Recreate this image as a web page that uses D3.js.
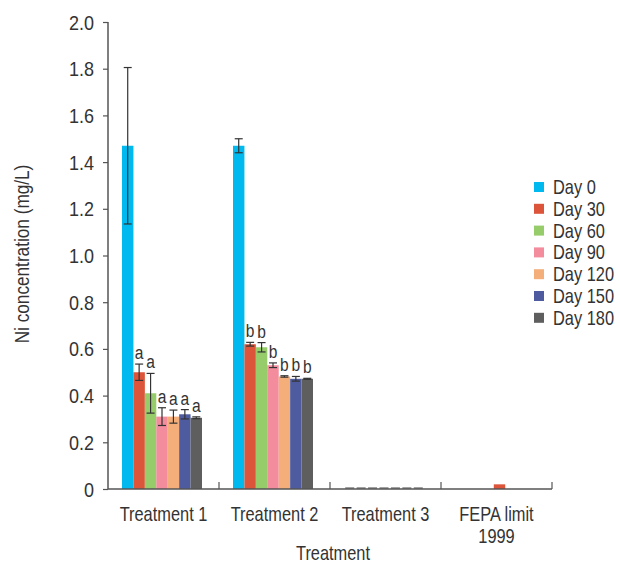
<!DOCTYPE html>
<html>
<head>
<meta charset="utf-8">
<script src="https://cdn.jsdelivr.net/npm/d3@7"></script>
<style>
  html, body { margin: 0; padding: 0; background: #fff; }
  svg { display: block; }
  text { font-family: "Liberation Sans", Arial, sans-serif; fill: #333; }
</style>
</head>
<body>
<svg id="chart" width="620" height="564"></svg>
<script>
// ---- data ----
const categories = ["Treatment 1", "Treatment 2", "Treatment 3", "FEPA limit 1999"];
const categoryLabelLines = [["Treatment 1"], ["Treatment 2"], ["Treatment 3"], ["FEPA limit", "1999"]];
const days = ["Day 0", "Day 30", "Day 60", "Day 90", "Day 120", "Day 150", "Day 180"];
const colors = ["#00b9ee", "#dc553a", "#97cc6b", "#f38c9d", "#f4ae7a", "#4e5b9e", "#5e5e5e"];

const t1Means  = [1.47, 0.50, 0.41, 0.31, 0.31, 0.32, 0.305];
const t1Errors = [0.335, 0.035, 0.085, 0.038, 0.028, 0.02, 0.004];
const t1Letters = ["", "a", "a", "a", "a", "a", "a"];

const t2Means  = [1.47, 0.62, 0.607, 0.53, 0.482, 0.472, 0.472];
const t2Errors = [0.03, 0.008, 0.02, 0.01, 0.003, 0.01, 0.002];
const t2Letters = ["", "b", "b", "b", "b", "b", "b"];

const t3Means  = [0, 0, 0, 0, 0, 0, 0];
const t3Errors = [0.004, 0.004, 0.004, 0.004, 0.004, 0.004, 0.004];
const t3Letters = ["", "", "", "", "", "", ""];

const fepaLimit = 0.02;

const yTicks = [0, 0.2, 0.4, 0.6, 0.8, 1.0, 1.2, 1.4, 1.6, 1.8, 2.0];
const yTickLabels = ["0", "0.2", "0.4", "0.6", "0.8", "1.0", "1.2", "1.4", "1.6", "1.8", "2.0"];

// ---- build rows ----
const groups = [
  { cat: categories[0], means: t1Means, errs: t1Errors, letters: t1Letters },
  { cat: categories[1], means: t2Means, errs: t2Errors, letters: t2Letters },
  { cat: categories[2], means: t3Means, errs: t3Errors, letters: t3Letters }
];
const rows = [];
groups.forEach(g => days.forEach((d, i) => rows.push({
  cat: g.cat, day: d, color: colors[i], v: g.means[i], e: g.errs[i], letter: g.letters[i]
})));

// ---- layout ----
const svg = d3.select("#chart");
const mLeft = 108, mRight = 552, mTop = 22, mBottom = 489;
const K = 0.82; // horizontal condensing to mimic the narrow typeface

const x0 = d3.scaleBand().domain(categories).range([mLeft, mRight]).paddingInner(0).paddingOuter(0);
const x1 = d3.scaleBand().domain(days).range([14, 94]).padding(0);
const y = d3.scaleLinear().domain([0, 2.0]).range([mBottom, mTop]);

// helper: condensed text placed at (x, y)
function ctext(parent, x, yy, str, opts = {}) {
  const k = opts.k || K;
  return parent.append("text")
    .attr("transform", `translate(${x},${yy})${opts.rotate ? ` rotate(${opts.rotate})` : ""} scale(${k},1)`)
    .attr("text-anchor", opts.anchor || "start")
    .attr("font-size", opts.size || 20)
    .text(str);
}

// bars
svg.append("g").selectAll("rect").data(rows.filter(r => r.v > 0)).join("rect")
  .attr("x", r => x0(r.cat) + x1(r.day))
  .attr("y", r => y(r.v))
  .attr("width", x1.bandwidth())
  .attr("height", r => y(0) - y(r.v))
  .attr("fill", r => r.color);

// FEPA limit bar (centered in its category)
svg.append("rect")
  .attr("x", x0(categories[3]) + x0.bandwidth() / 2 - x1.bandwidth() / 2 + 3)
  .attr("y", y(fepaLimit))
  .attr("width", x1.bandwidth())
  .attr("height", y(0) - y(fepaLimit))
  .attr("fill", colors[1]);

// error bars
const capW = 4;
const eb = svg.append("g").attr("stroke", "#333").attr("stroke-width", 1.2);
rows.filter(r => r.v > 0).forEach(r => {
  const cx = x0(r.cat) + x1(r.day) + x1.bandwidth() / 2;
  const y1 = y(r.v + r.e), y2 = y(Math.max(0, r.v - r.e));
  eb.append("line").attr("x1", cx).attr("x2", cx).attr("y1", y1).attr("y2", y2);
  eb.append("line").attr("x1", cx - capW).attr("x2", cx + capW).attr("y1", y1).attr("y2", y1);
  eb.append("line").attr("x1", cx - capW).attr("x2", cx + capW).attr("y1", y2).attr("y2", y2);
});
// zero-valued entries: only caps show
rows.filter(r => r.v === 0).forEach(r => {
  const cx = x0(r.cat) + x1(r.day) + x1.bandwidth() / 2;
  const y1 = y(r.v + r.e);
  svg.append("line").attr("x1", cx - capW - 0.5).attr("x2", cx + capW + 0.5)
    .attr("y1", y1).attr("y2", y1).attr("stroke", "#777").attr("stroke-width", 1.5);
});

// letters
const lettersG = svg.append("g");
rows.filter(r => r.letter).forEach(r => {
  ctext(lettersG, x0(r.cat) + x1(r.day) + x1.bandwidth() / 2, y(r.v + r.e) - 5, r.letter,
    { anchor: "middle", size: 19 });
});

// y axis
const yAxis = d3.axisLeft(y).tickValues(yTicks).tickSize(5).tickPadding(9)
  .tickFormat((d, i) => yTickLabels[i]);
const gy = svg.append("g").attr("transform", `translate(${mLeft},0)`).call(yAxis);
gy.select(".domain").attr("stroke", "#555").attr("stroke-width", 1.5).attr("d", `M0,${mTop}V${mBottom}`);
gy.selectAll(".tick line").attr("stroke", "#555").attr("stroke-width", 1.2);
gy.selectAll(".tick text").each(function () {
  const t = d3.select(this);
  const xx = +t.attr("x");
  t.attr("x", null).attr("dy", null)
    .attr("transform", `translate(${xx},7) scale(0.9,1)`)
    .attr("font-size", 20).attr("fill", "#333")
    .style("font-family", '"Liberation Sans", Arial, sans-serif');
});

// x axis
const gx = svg.append("g").attr("transform", `translate(0,${mBottom})`);
gx.append("line").attr("x1", mLeft).attr("x2", mRight).attr("y1", 0).attr("y2", 0)
  .attr("stroke", "#555").attr("stroke-width", 1.5);
const boundaries = categories.map(c => x0(c)).concat([mRight]);
gx.selectAll("line.tk").data(boundaries.slice(1)).join("line").attr("class", "tk")
  .attr("x1", d => d).attr("x2", d => d).attr("y1", 0).attr("y2", -7)
  .attr("stroke", "#555").attr("stroke-width", 1.2);

categories.forEach((c, i) => {
  categoryLabelLines[i].forEach((ln, j) => {
    ctext(gx, x0(c) + x0.bandwidth() / 2, 32 + j * 22, ln, { anchor: "middle" });
  });
});

// axis titles
ctext(svg, 333, 560, "Treatment", { anchor: "middle" });
ctext(svg, 29, 254, "Ni concentration (mg/L)", { anchor: "middle", rotate: -90, k: 0.86 });

// legend
const lg = svg.append("g").attr("transform", "translate(534,182)");
days.forEach((d, i) => {
  const row = lg.append("g").attr("transform", `translate(0,${i * 21.8})`);
  row.append("rect").attr("width", 10).attr("height", 10).attr("fill", colors[i]);
  ctext(row, 19, 12, d);
});
</script>
</body>
</html>
